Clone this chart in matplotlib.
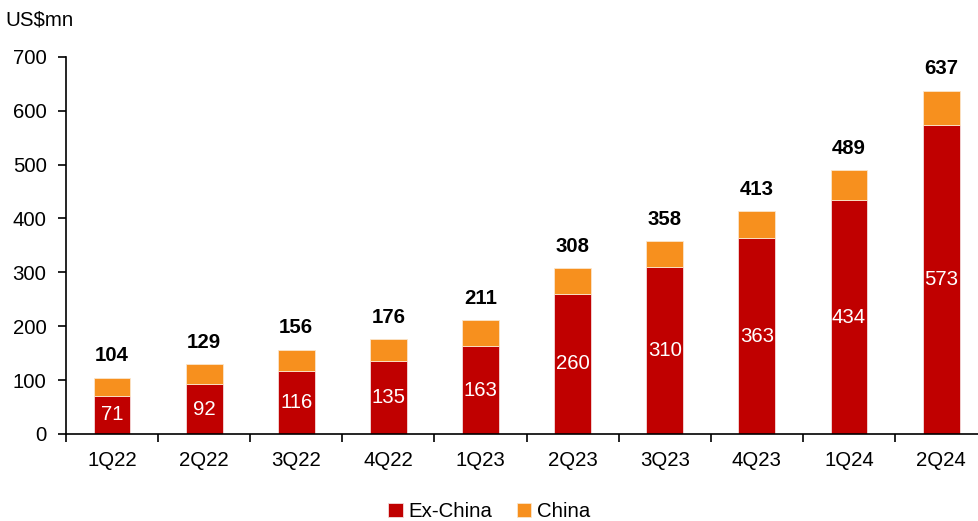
import matplotlib.pyplot as plt
import numpy as np

plt.rcParams['font.family'] = ['Liberation Sans', 'DejaVu Sans']

quarters = ['1Q22', '2Q22', '3Q22', '4Q22', '1Q23', '2Q23', '3Q23', '4Q23', '1Q24', '2Q24']
ex_china = [71, 92, 116, 135, 163, 260, 310, 363, 434, 573]
totals = [104, 129, 156, 176, 211, 308, 358, 413, 489, 637]
china = [t - e for t, e in zip(totals, ex_china)]

red = '#C00000'
orange = '#F7901E'
fs = 14.7

fig = plt.figure(figsize=(9.79, 5.21), dpi=100)
ax = fig.add_axes([0.0674, 0.167, 0.941, 0.724])

x = np.arange(len(quarters))
w = 0.4
b1 = ax.bar(x, ex_china, w, color=red, edgecolor='#f4dcdc', linewidth=0.6, label='Ex-China')
b2 = ax.bar(x, china, w, bottom=ex_china, color=orange, edgecolor='#fbe6cc', linewidth=0.6, label='China')

for xi, e, t in zip(x, ex_china, totals):
    ax.text(xi, e / 2, str(e), ha='center', va='center', color='white', fontsize=fs)
    ax.annotate(str(t), (xi, t), xytext=(0, 9), textcoords='offset points',
                ha='center', va='bottom', fontsize=fs, fontweight='bold')

ax.set_xlim(-0.5, len(quarters) - 0.5)
ax.set_ylim(0, 700)
ax.set_yticks(range(0, 701, 100))
ax.set_xticks(x)
ax.set_xticklabels(quarters)
ax.set_xticks(np.arange(-0.5, len(quarters), 1), minor=True)
ax.tick_params(axis='x', which='major', length=0, pad=12, labelsize=fs)
ax.tick_params(axis='x', which='minor', length=6, width=1.2, direction='out')
ax.tick_params(axis='y', length=6, width=1.2, labelsize=fs, pad=8)
for s in ['top', 'right']:
    ax.spines[s].set_visible(False)
ax.spines['left'].set_linewidth(1.2)
ax.spines['bottom'].set_linewidth(1.2)

fig.text(0.005, 0.962, 'US$mn', fontsize=fs, va='center', ha='left')

fig.legend(handles=[b1, b2], loc='lower center', bbox_to_anchor=(0.5, -0.035), ncol=2,
           frameon=False, fontsize=fs, handlelength=0.7, handleheight=0.7,
           handletextpad=0.3, columnspacing=1.2)

fig.savefig('out.png', dpi=100)
